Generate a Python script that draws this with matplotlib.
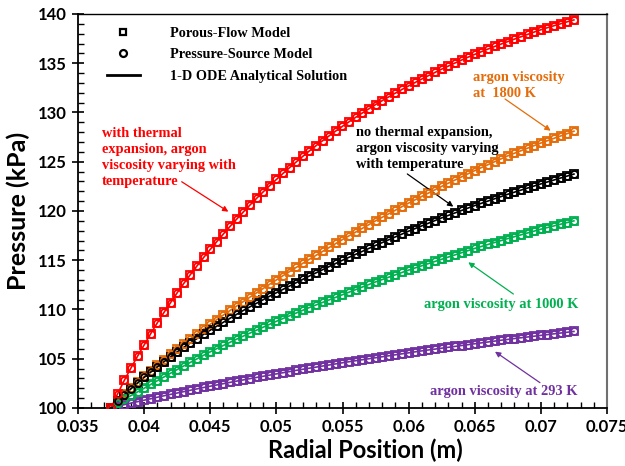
import matplotlib
matplotlib.use("Agg")
import matplotlib.pyplot as plt
from matplotlib.lines import Line2D
from matplotlib.ticker import MultipleLocator

# radial position (m)
radial = [0.0375,
          0.0380, 0.0385, 0.0390, 0.0395, 0.0400,
          0.0405, 0.0410, 0.0415, 0.0420, 0.0425,
          0.0430, 0.0435, 0.0440, 0.0445, 0.0450,
          0.0455, 0.0460, 0.0465, 0.0470, 0.0475,
          0.0480, 0.0485, 0.0490, 0.0495, 0.0500,
          0.0505, 0.0510, 0.0515, 0.0520, 0.0525,
          0.0530, 0.0535, 0.0540, 0.0545, 0.0550,
          0.0555, 0.0560, 0.0565, 0.0570, 0.0575,
          0.0580, 0.0585, 0.0590, 0.0595, 0.0600,
          0.0605, 0.0610, 0.0615, 0.0620, 0.0625,
          0.0630, 0.0635, 0.0640, 0.0645, 0.0650,
          0.0655, 0.0660, 0.0665, 0.0670, 0.0675,
          0.0680, 0.0685, 0.0690, 0.0695, 0.0700,
          0.0705, 0.0710, 0.0715, 0.0720, 0.0725]

# pressure (kPa)
p_thermal = [100.0,
             101.45, 102.8, 104.05, 105.25, 106.4,
             107.55, 108.65, 109.7, 110.7, 111.7,
             112.65, 113.55, 114.43, 115.28, 116.1,
             116.9, 117.68, 118.44, 119.18, 119.9,
             120.6, 121.28, 121.94, 122.58, 123.2,
             123.81, 124.4, 124.98, 125.55, 126.1,
             126.63, 127.14, 127.64, 128.13, 128.6,
             129.06, 129.51, 129.95, 130.38, 130.8,
             131.2, 131.59, 131.97, 132.34, 132.7,
             133.05, 133.4, 133.74, 134.07, 134.4,
             134.71, 135.02, 135.32, 135.62, 135.9,
             136.17, 136.44, 136.7, 136.95, 137.2,
             137.45, 137.69, 137.93, 138.17, 138.4,
             138.61, 138.81, 139.01, 139.21, 139.4]

p_1800 = [100.0,
          100.72, 101.38, 102.0, 102.6, 103.2,
          103.78, 104.35, 104.91, 105.46, 106.0,
          106.52, 107.03, 107.53, 108.02, 108.5,
          108.97, 109.44, 109.9, 110.35, 110.8,
          111.25, 111.69, 112.13, 112.57, 113.0,
          113.43, 113.85, 114.27, 114.69, 115.1,
          115.5, 115.9, 116.3, 116.7, 117.1,
          117.48, 117.86, 118.24, 118.62, 119.0,
          119.36, 119.72, 120.08, 120.44, 120.8,
          121.14, 121.48, 121.82, 122.16, 122.5,
          122.82, 123.14, 123.46, 123.78, 124.1,
          124.4, 124.7, 125.0, 125.3, 125.6,
          125.86, 126.12, 126.38, 126.64, 126.9,
          127.14, 127.38, 127.62, 127.86, 128.1]

p_varying = [100.0,
             100.7, 101.34, 101.94, 102.52, 103.1,
             103.64, 104.17, 104.69, 105.2, 105.7,
             106.16, 106.61, 107.05, 107.48, 107.9,
             108.31, 108.71, 109.11, 109.51, 109.9,
             110.27, 110.63, 110.99, 111.35, 111.7,
             112.04, 112.38, 112.72, 113.06, 113.4,
             113.72, 114.04, 114.36, 114.68, 115.0,
             115.3, 115.6, 115.9, 116.2, 116.5,
             116.79, 117.08, 117.37, 117.66, 117.95,
             118.22, 118.49, 118.76, 119.03, 119.3,
             119.55, 119.8, 120.05, 120.3, 120.55,
             120.78, 121.01, 121.24, 121.47, 121.7,
             121.91, 122.12, 122.33, 122.54, 122.75,
             122.95, 123.15, 123.35, 123.55, 123.75]

p_1000 = [100.0,
          100.46, 100.87, 101.25, 101.63, 102.0,
          102.39, 102.77, 103.15, 103.53, 103.9,
          104.27, 104.63, 104.99, 105.35, 105.7,
          106.03, 106.35, 106.67, 106.99, 107.3,
          107.6, 107.9, 108.2, 108.5, 108.8,
          109.08, 109.36, 109.64, 109.92, 110.2,
          110.46, 110.72, 110.98, 111.24, 111.5,
          111.76, 112.02, 112.28, 112.54, 112.8,
          113.04, 113.28, 113.52, 113.76, 114.0,
          114.22, 114.44, 114.66, 114.88, 115.1,
          115.32, 115.54, 115.76, 115.98, 116.2,
          116.4, 116.6, 116.8, 117.0, 117.2,
          117.39, 117.58, 117.77, 117.96, 118.15,
          118.32, 118.49, 118.66, 118.83, 119.0]

p_293 = [100.0,
         100.18, 100.34, 100.49, 100.64, 100.79,
         100.94, 101.09, 101.24, 101.38, 101.52,
         101.66, 101.8, 101.94, 102.08, 102.21,
         102.34, 102.47, 102.6, 102.73, 102.85,
         102.98, 103.1, 103.22, 103.34, 103.46,
         103.58, 103.7, 103.82, 103.93, 104.04,
         104.15, 104.26, 104.37, 104.48, 104.59,
         104.7, 104.8, 104.9, 105.0, 105.1,
         105.2, 105.3, 105.4, 105.5, 105.6,
         105.7, 105.8, 105.89, 105.98, 106.07,
         106.16, 106.25, 106.34, 106.43, 106.52,
         106.61, 106.7, 106.79, 106.88, 106.96,
         107.05, 107.13, 107.21, 107.29, 107.37,
         107.45, 107.53, 107.61, 107.69, 107.77]

RED = "#FF0000"
ORANGE = "#E46C0A"
BLACK = "#000000"
GREEN = "#00B050"
PURPLE = "#7030A0"

serif = "Liberation Serif"
sans = "Lato"

fig = plt.figure(figsize=(6.25, 4.66), dpi=100)
ax = fig.add_axes([0.1248, 0.1245, 0.8464, 0.8455])

series = [(p_293, PURPLE), (p_1000, GREEN), (p_1800, ORANGE),
          (p_varying, BLACK), (p_thermal, RED)]
for vals, col in series:
    ax.plot(radial, vals, color=col, lw=1.2, zorder=2)
    ax.plot(radial, vals, ls="none", marker="s", ms=5.6, mfc="none",
            mec=col, mew=1.3, zorder=3)
    ax.plot(radial, vals, ls="none", marker="o", ms=5.0, mfc="none",
            mec=col, mew=1.3, zorder=4)

ax.set_xlim(0.035, 0.075)
ax.set_ylim(100, 140)
ax.xaxis.set_minor_locator(MultipleLocator(0.001))
ax.yaxis.set_major_locator(MultipleLocator(5))
ax.yaxis.set_minor_locator(MultipleLocator(1))
ax.tick_params(which="major", direction="inout", length=9, width=1.2,
               labelsize=12)
ax.tick_params(which="minor", direction="in", length=4, width=1)
ax.set_xticks([0.035 + 0.005 * i for i in range(9)])
ax.set_xticklabels(["0.035", "0.04", "0.045", "0.05", "0.055", "0.06",
                    "0.065", "0.07", "0.075"])
for lab in ax.get_xticklabels() + ax.get_yticklabels():
    lab.set_fontfamily(sans)
    lab.set_fontweight("bold")

for side in ["left", "bottom"]:
    ax.spines[side].set_linewidth(1.3)
ax.spines["top"].set_linewidth(1.0)
ax.spines["right"].set_linewidth(1.5)
ax.spines["right"].set_color("#707070")

ax.set_xlabel("Radial Position (m)", fontfamily=sans, fontweight="bold",
              fontsize=17)
ax.xaxis.set_label_coords(0.5425, -0.078)
ax.set_ylabel("Pressure (kPa)", fontfamily=sans, fontweight="bold",
              fontsize=18)
ax.yaxis.set_label_coords(-0.09, 0.5)

handles = [
    Line2D([], [], ls="none", marker="s", ms=5, mfc="none", mec="k", mew=1.6),
    Line2D([], [], ls="none", marker="o", ms=5, mfc="none", mec="k", mew=1.6),
    Line2D([], [], color="k", lw=2),
]
labels = ["Porous-Flow Model", "Pressure-Source Model",
          "1-D ODE Analytical Solution"]
ax.legend(handles, labels, loc="upper left", bbox_to_anchor=(0.03, 1.0),
          frameon=False, prop={"family": serif, "weight": "bold", "size": 10.3},
          handlelength=2.3, handletextpad=2.1, labelspacing=0.6)

def note(text, col, xy, xytext, tx, ty):
    ax.annotate("", xy=xy, xytext=xytext,
                arrowprops=dict(arrowstyle="-|>", color=col, lw=0.9,
                                mutation_scale=8, shrinkA=0, shrinkB=0))
    ax.text(tx, ty, text, color=col, fontfamily=serif, fontweight="bold",
            fontsize=10.4, ha="left", va="top", linespacing=1.3)

note("with thermal\nexpansion, argon\nviscosity varying with\ntemperature",
     RED, (0.04637, 119.93), (0.04284, 122.97), 0.0368, 128.5)
note("argon viscosity\nat  1800 K", ORANGE, (0.07074, 128.15),
     (0.06729, 131.37), 0.0649, 134.2)
note("no thermal expansion,\nargon viscosity varying\nwith temperature", BLACK,
     (0.06338, 120.44), (0.0599, 123.76), 0.0560, 128.6)
note("argon viscosity at 1000 K", GREEN, (0.06451, 114.79),
     (0.06792, 111.57), 0.0612, 111.2)
note("argon viscosity at 293 K", PURPLE, (0.06653, 105.72),
     (0.06993, 102.57), 0.0616, 102.35)

fig.savefig("out.png", dpi=100)
